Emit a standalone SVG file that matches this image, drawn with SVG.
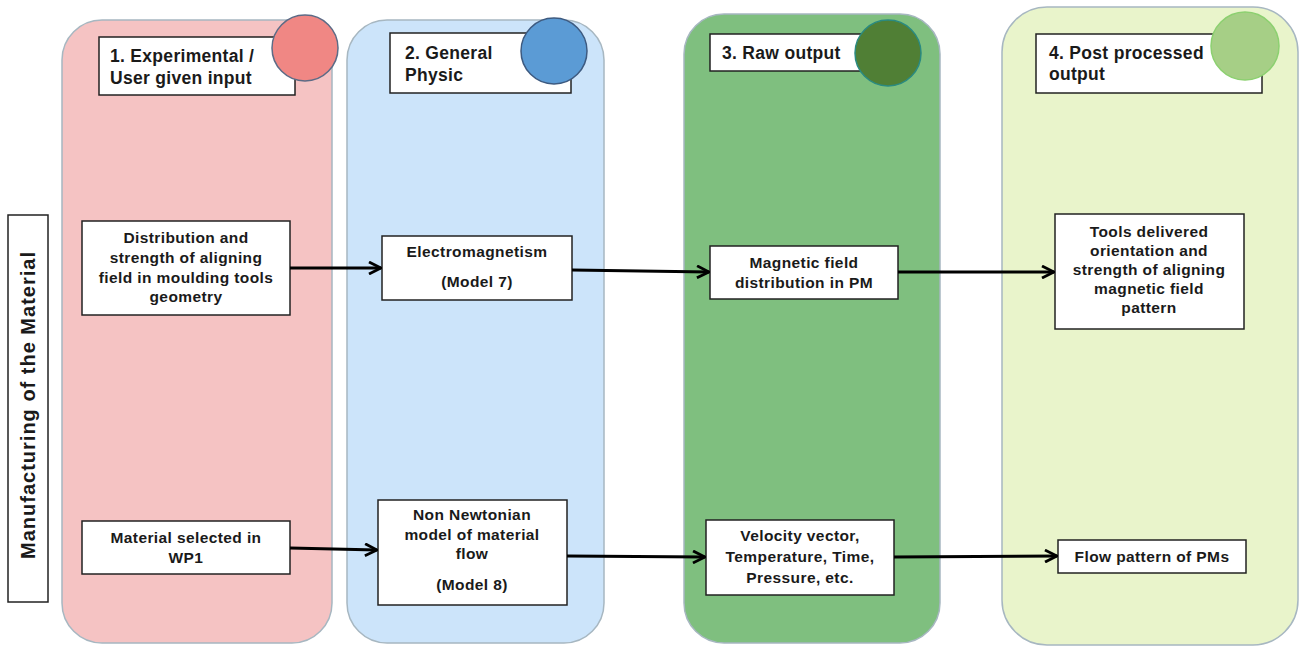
<svg xmlns="http://www.w3.org/2000/svg" width="1301" height="648" viewBox="0 0 1301 648">
<defs>
<style>
.col{stroke:#a7b7c1;stroke-width:1.5}
.box{fill:#fff;stroke:#222;stroke-width:1.5}
.t{font-family:"Liberation Sans",Arial,sans-serif;font-weight:bold;fill:#1a1a1a}
.ttl{font-size:17.5px;letter-spacing:0.3px}
.nd{font-size:15.5px;letter-spacing:0.4px;text-anchor:middle}
.con{stroke:#000;stroke-width:3;fill:none}
</style>
<marker id="arr" viewBox="0 0 14 14" refX="13" refY="7" markerWidth="14" markerHeight="14" markerUnits="userSpaceOnUse" orient="auto">
<path d="M1,1 L13,7 L1,13" fill="none" stroke="#000" stroke-width="2.8"/>
</marker>
</defs>
<rect width="1301" height="648" fill="#fff"/>

<g id="col1">
<rect class="col" x="62" y="20" width="270" height="623" rx="40" fill="#f5c3c3"/>
<rect class="box" x="99" y="37" width="196" height="58"/>
<text class="t ttl" x="110" y="62">1. Experimental /</text>
<text class="t ttl" x="110" y="84">User given input</text>
<circle cx="305" cy="48" r="33" fill="#f08784" stroke="#5c6b86" stroke-width="1.5"/>
</g>
<g id="col2">
<rect class="col" x="347" y="20" width="257" height="623" rx="40" fill="#cce4fa"/>
<rect class="box" x="390" y="33" width="181" height="60"/>
<text class="t ttl" x="405" y="59">2. General</text>
<text class="t ttl" x="405" y="81">Physic</text>
<circle cx="554" cy="51" r="33" fill="#5b9bd5" stroke="#3d5a80" stroke-width="1.5"/>
</g>
<g id="col3">
<rect class="col" x="684" y="14" width="256" height="629" rx="40" fill="#7fbf7f"/>
<rect class="box" x="710" y="34" width="153" height="37"/>
<text class="t ttl" x="722" y="59">3. Raw output</text>
<circle cx="888" cy="53" r="33" fill="#507f35" stroke="#2a8a80" stroke-width="1.5"/>
</g>
<g id="col4">
<rect class="col" x="1002" y="7" width="296" height="638" rx="45" fill="#e9f4cb"/>
<rect class="box" x="1036" y="34" width="226" height="59"/>
<text class="t ttl" x="1049" y="59">4. Post processed</text>
<text class="t ttl" x="1049" y="80">output</text>
<circle cx="1245" cy="46" r="34" fill="#a6cf86" stroke="#8cd070" stroke-width="1.5"/>
</g>

<g id="side-label">
<rect class="box" x="8" y="215" width="40" height="387"/>
<text class="t" font-size="20" letter-spacing="1" text-anchor="middle" transform="translate(35,405) rotate(-90)">Manufacturing of the Material</text>
</g>

<g id="n1">
<rect class="box" x="82" y="221" width="208" height="94"/>
<text class="t nd" x="186" y="243">Distribution  and</text>
<text class="t nd" x="186" y="263">strength of aligning</text>
<text class="t nd" x="186" y="283">field in moulding tools</text>
<text class="t nd" x="186" y="302">geometry</text>
</g>
<g id="n2">
<rect class="box" x="382" y="236" width="190" height="64"/>
<text class="t nd" x="477" y="257">Electromagnetism</text>
<text class="t nd" x="477" y="287">(Model 7)</text>
</g>
<g id="n3">
<rect class="box" x="710" y="246" width="188" height="53"/>
<text class="t nd" x="804" y="268">Magnetic field</text>
<text class="t nd" x="804" y="288">distribution  in PM</text>
</g>
<g id="n4">
<rect class="box" x="1055" y="214" width="189" height="115"/>
<text class="t nd" x="1149" y="237">Tools delivered</text>
<text class="t nd" x="1149" y="256">orientation and</text>
<text class="t nd" x="1149" y="275">strength of aligning</text>
<text class="t nd" x="1149" y="294">magnetic field</text>
<text class="t nd" x="1149" y="313">pattern</text>
</g>
<g id="n5">
<rect class="box" x="82" y="521" width="208" height="53"/>
<text class="t nd" x="186" y="543">Material selected in</text>
<text class="t nd" x="186" y="563">WP1</text>
</g>
<g id="n6">
<rect class="box" x="378" y="500" width="189" height="105"/>
<text class="t nd" x="472" y="520">Non  Newtonian</text>
<text class="t nd" x="472" y="540">model of material</text>
<text class="t nd" x="472" y="559">flow</text>
<text class="t nd" x="472" y="590">(Model 8)</text>
</g>
<g id="n7">
<rect class="box" x="706" y="520" width="188" height="75"/>
<text class="t nd" x="800" y="541">Velocity vector,</text>
<text class="t nd" x="800" y="562">Temperature, Time,</text>
<text class="t nd" x="800" y="583">Pressure, etc.</text>
</g>
<g id="n8">
<rect class="box" x="1058" y="540" width="188" height="33"/>
<text class="t nd" x="1152" y="562">Flow  pattern of PMs</text>
</g>

<g id="connectors">
<line class="con" x1="290" y1="268" x2="381" y2="268" marker-end="url(#arr)"/>
<line class="con" x1="572" y1="270" x2="709" y2="272" marker-end="url(#arr)"/>
<line class="con" x1="898" y1="272" x2="1054" y2="272" marker-end="url(#arr)"/>
<line class="con" x1="290" y1="548" x2="377" y2="550" marker-end="url(#arr)"/>
<line class="con" x1="567" y1="556" x2="705" y2="557" marker-end="url(#arr)"/>
<line class="con" x1="894" y1="557" x2="1057" y2="556" marker-end="url(#arr)"/>
</g>
</svg>
